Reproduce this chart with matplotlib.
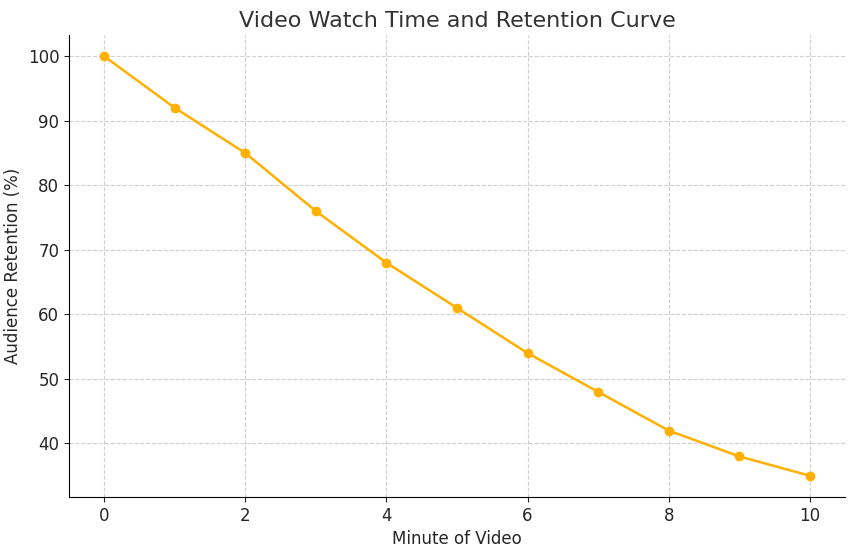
import matplotlib
matplotlib.use('Agg')
import matplotlib.pyplot as plt

minutes = [0, 1, 2, 3, 4, 5, 6, 7, 8, 9, 10]
retention = [100, 92, 85, 76, 68, 61, 54, 48, 42, 38, 35]

fig = plt.figure(figsize=(8.54, 5.51), dpi=100)
ax = fig.add_axes([69/854, 1 - 497/551, (845 - 69)/854, (497 - 35)/551])

ax.plot(minutes, retention, color='#FFB000', marker='o', markersize=6, linewidth=1.8)

ax.set_title('Video Watch Time and Retention Curve', fontsize=16, color='#333333')
ax.set_xlabel('Minute of Video', fontsize=12, color='#262626')
ax.set_ylabel('Audience Retention (%)', fontsize=12, color='#262626')
ax.set_xticks([0, 2, 4, 6, 8, 10])
ax.set_yticks([40, 50, 60, 70, 80, 90, 100])
ax.tick_params(labelsize=12, colors='#262626')
ax.set_xlim(-0.5, 10.5)
ax.set_ylim(31.7, 103.3)
ax.grid(True, linestyle='--', color='#d0d0d0', linewidth=0.8)
ax.spines['top'].set_visible(False)
ax.spines['right'].set_visible(False)

fig.savefig('out.png', dpi=100)
